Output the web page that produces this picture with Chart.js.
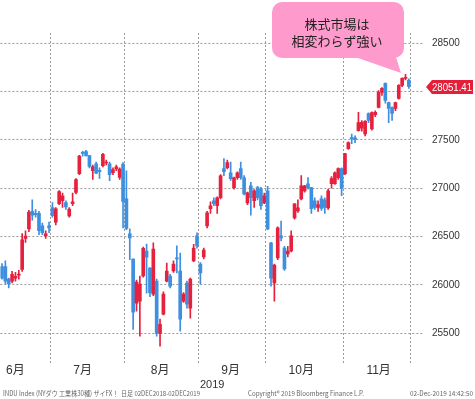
<!DOCTYPE html>
<html>
<head>
<meta charset="utf-8">
<script src="https://cdn.jsdelivr.net/npm/chart.js@4.4.1/dist/chart.umd.min.js"></script>
<style>html,body{margin:0;padding:0;background:#fff}</style>
</head>
<body>
<canvas id="chart" width="475" height="399"></canvas>
<script>
// trading days (last 4 are empty slots at the right edge)
const dates = [
  '6/10','6/11','6/12','6/13','6/14','6/17','6/18','6/19','6/20','6/21','6/24','6/25','6/26','6/27','6/28',
  '7/1','7/2','7/3','7/5','7/8','7/9','7/10','7/11','7/12','7/15','7/16','7/17','7/18','7/19','7/22','7/23','7/24','7/25','7/26','7/29','7/30','7/31',
  '8/1','8/2','8/5','8/6','8/7','8/8','8/9','8/12','8/13','8/14','8/15','8/16','8/19','8/20','8/21','8/22','8/23','8/26','8/27','8/28','8/29','8/30',
  '9/3','9/4','9/5','9/6','9/9','9/10','9/11','9/12','9/13','9/16','9/17','9/18','9/19','9/20','9/23','9/24','9/25','9/26','9/27','9/30',
  '10/1','10/2','10/3','10/4','10/7','10/8','10/9','10/10','10/11','10/14','10/15','10/16','10/17','10/18','10/21','10/22','10/23','10/24','10/25','10/28','10/29','10/30','10/31',
  '11/1','11/4','11/5','11/6','11/7','11/8','11/11','11/12','11/13','11/14','11/15','11/18','11/19','11/20','11/21','11/22','11/25','11/26','11/27','11/29',
  '12/2','12/3','12/4','12/5'
];

const open = [
  26190,26190,26060,26040,26070,26100,26160,26480,26580,26760,26740,26740,26610,26507,26610,
  26800,26650,26840,26870,26850,26714,26840,26955,27150,27367,27378,27336,27181,27253,27185,27233,27260,27253,27160,27200,27110,27250,
  26890,26527,26268,25812,25833,26092,26351,26175,25905,26040,25500,25698,26040,26092,26144,26279,26144,25833,26020,25760,26247,26507,
  26216,26290,26610,26787,26870,26818,26901,27202,27212,27160,27005,27108,27202,27108,26849,27025,26870,27005,26994,26849,
  26973,26434,26020,26279,26507,26382,26320,26351,26693,26766,26890,26973,27046,27005,26870,26800,26890,26880,26797,27046,27046,27108,27202,
  27150,27409,27523,27520,27595,27620,27560,27772,27613,27760,27834,27990,28083,27886,27834,27824,27927,28062,28135,28114
];
const high = [
  26220,26250,26070,26140,26130,26150,26530,26560,26770,26880,26780,26760,26640,26560,26650,
  26850,26800,26975,26950,26870,26800,26950,27100,27340,27380,27390,27340,27240,27270,27210,27360,27290,27270,27210,27240,27210,27265,
  27180,26580,26270,26050,26092,26390,26423,26180,26434,26060,25646,25930,26227,26110,26250,26403,26330,25920,26040,26070,26420,26538,
  26230,26380,26760,26860,26900,26910,27140,27305,27290,27270,27115,27170,27270,27130,26960,27060,26985,27020,27010,26950,
  27020,26440,26216,26600,26660,26400,26400,26560,26840,26880,27130,27030,27110,27010,26900,26870,26920,26900,26990,27120,27170,27210,27210,
  27360,27480,27560,27540,27785,27700,27700,27780,27790,27800,28010,28040,28090,27890,27840,27890,28070,28140,28176,28130
];
const low = [
  26060,26010,25970,26020,26040,26060,26140,26440,26550,26670,26700,26520,26520,26480,26540,
  26700,26620,26830,26800,26780,26700,26820,26940,27140,27330,27330,27210,27090,27150,27100,27220,27240,27077,27140,27180,27090,26590,
  26570,26260,25540,25730,25470,26080,25916,25880,25890,25470,25366,25690,26030,25970,26130,26123,25522,25820,25760,25656,26240,26380,
  26009,26270,26590,26740,26820,26740,26890,27129,27200,27080,26990,27090,27090,26930,26830,26720,26800,26880,26780,26840,
  26570,25988,25833,26260,26455,26150,26290,26340,26680,26750,26880,26960,26990,26740,26780,26760,26770,26740,26780,27000,27040,27090,26922,
  27140,27400,27460,27470,27590,27590,27540,27678,27600,27740,27830,27960,27880,27678,27700,27800,27920,28050,28120,28030
];
const close = [
  26070,26040,26010,26110,26090,26112,26465,26504,26753,26720,26727,26560,26540,26527,26590,
  26717,26787,26966,26922,26806,26783,26860,27088,27332,27359,27335,27225,27222,27154,27172,27349,27270,27140,27192,27221,27198,26864,
  26583,26485,25718,26030,26008,26379,26287,25920,26370,25500,25594,25905,26144,25988,26216,26268,25646,25905,25802,26061,26382,26403,
  26123,26360,26745,26818,26839,26901,27129,27170,27264,27098,27108,27160,27108,26942,26953,26901,26973,26901,26818,26922,
  26580,26071,26205,26590,26486,26165,26351,26507,26839,26797,27025,27025,27005,26787,26800,26830,26790,26800,26973,27098,27160,27202,26994,
  27357,27471,27513,27505,27678,27681,27690,27700,27782,27785,27990,28031,27907,27824,27772,27886,28062,28135,28145,28051.41
];

const monthNames = ['6月','7月','8月','9月','10月','11月'];
const yTicks = [25500, 26000, 26500, 27000, 27500, 28000, 28500];
const yearLabel = '2019';
const balloonText = ['株式市場は', '相変わらず強い'];
const footerLeft = 'INDU Index (NYダウ 工業株30種) ザイFX！  日足 02DEC2018-02DEC2019';
const footerMid = 'Copyright® 2019 Bloomberg Finance L.P.';
const footerRight = '02-Dec-2019 14:42:50';

const UP = '#e6213d';
const DOWN = '#3d8fe0';

const monthOf = i => dates[i] ? parseInt(dates[i].split('/')[0]) : -1;
const dayOf = i => parseInt(dates[i].split('/')[1]);

// month label sits on the trading day closest to the 15th
const monthTick = {};
let m = 0;
for (let mon = 6; mon <= 11; mon++) {
  let best = -1, bestD = 99;
  for (let i = 0; i < close.length; i++) {
    if (monthOf(i) !== mon) continue;
    const d = Math.abs(dayOf(i) - 15);
    if (d < bestD) { bestD = d; best = i; }
  }
  monthTick[best] = monthNames[m++];
}

const colors = close.map((c, i) => c >= open[i] ? UP : DOWN);
const wicks = low.map((l, i) => [l, high[i]]);
const bodies = open.map((o, i) => [o, close[i]]);

const gridCol = '#9a9a9a';
const numFont = '"Liberation Sans", Arial, sans-serif';
const jpFont = '"Liberation Sans", "Noto Sans CJK JP", sans-serif';

const overlay = {
  id: 'overlay',
  afterDraw(chart) {
    const ctx = chart.ctx;
    const y = chart.scales.y;
    ctx.save();

    // last price tag
    const last = close[close.length - 1];
    const py = Math.round(y.getPixelForValue(last)) + 1;
    ctx.fillStyle = '#e41f3a';
    ctx.beginPath();
    ctx.moveTo(426, py);
    ctx.lineTo(432, py - 7);
    ctx.lineTo(473, py - 7);
    ctx.lineTo(473, py + 7);
    ctx.lineTo(432, py + 7);
    ctx.closePath();
    ctx.fill();
    ctx.fillStyle = '#fff';
    ctx.font = '11px ' + numFont;
    ctx.textAlign = 'left';
    ctx.textBaseline = 'middle';
    ctx.fillText(last.toFixed(2), 432, py + 1, 40);

    // speech balloon
    ctx.fillStyle = '#ff9acc';
    ctx.beginPath();
    ctx.roundRect(272, 2, 132, 56, 10);
    ctx.fill();
    ctx.beginPath();
    ctx.moveTo(355, 57);
    ctx.lineTo(396, 57);
    ctx.lineTo(401, 73);
    ctx.closePath();
    ctx.fill();
    ctx.fillStyle = '#222';
    ctx.font = '13px "Noto Sans CJK JP", sans-serif';
    ctx.textAlign = 'center';
    ctx.fillText(balloonText[0], 337, 24);
    ctx.fillText(balloonText[1], 337, 41);

    // footer
    ctx.fillStyle = '#666';
    ctx.font = '7px "Noto Sans CJK JP", sans-serif';
    ctx.textAlign = 'left';
    ctx.fillText(footerLeft, 3, 393, 197);
    ctx.fillText(footerMid, 248, 393, 116);
    ctx.fillText(footerRight, 410, 393, 63);
    ctx.restore();
  }
};

new Chart(document.getElementById('chart'), {
  type: 'bar',
  data: {
    labels: dates,
    datasets: [
      { data: wicks, backgroundColor: colors, barThickness: 1, grouped: false, order: 2 },
      { data: bodies, backgroundColor: colors, barThickness: 3, grouped: false, minBarLength: 1, order: 1 }
    ]
  },
  options: {
    responsive: false,
    animation: false,
    layout: { padding: { top: 33, left: 0, right: 0, bottom: 7 } },
    plugins: {
      legend: { display: false },
      tooltip: { enabled: false }
    },
    scales: {
      x: {
        offset: true,
        grid: {
          offset: true,
          drawTicks: false,
          color: c => (c.index > 0 && monthOf(c.index) !== -1 && monthOf(c.index) !== monthOf(c.index - 1)) ? gridCol : 'rgba(0,0,0,0)'
        },
        border: { display: false, dash: [2, 2] },
        ticks: {
          autoSkip: false,
          maxRotation: 0,
          minRotation: 0,
          padding: 2,
          color: '#333',
          font: { family: jpFont, size: 12, lineHeight: 0.95 },
          callback: (v, i) => monthTick[i] || ''
        },
        title: {
          display: true,
          text: yearLabel,
          padding: 0,
          color: '#333',
          font: { family: numFont, size: 11, lineHeight: 1.2 }
        }
      },
      y: {
        position: 'right',
        min: 25189,
        max: 28604,
        afterBuildTicks: s => { s.ticks = yTicks.map(v => ({ value: v })); },
        afterFit: s => { s.width = 51; },
        grid: { color: gridCol, drawTicks: false },
        border: { display: false, dash: [2, 2] },
        ticks: {
          padding: 8,
          color: '#333',
          font: { family: numFont, size: 10 },
          callback: v => String(v)
        }
      }
    }
  },
  plugins: [overlay]
});
</script>
</body>
</html>
